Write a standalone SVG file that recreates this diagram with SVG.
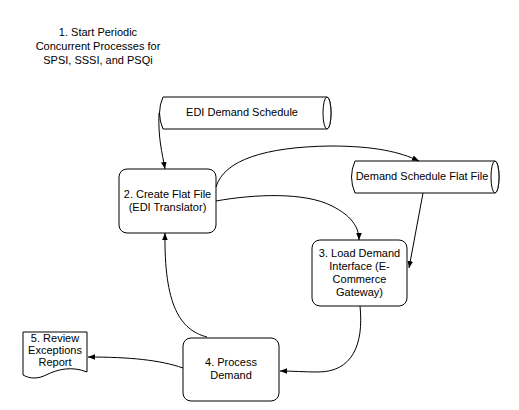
<svg xmlns="http://www.w3.org/2000/svg" width="519" height="410" viewBox="0 0 519 410">
<defs>
<style>
.t{font-family:"Liberation Sans",Arial,sans-serif;font-size:11px;fill:#000;text-anchor:middle}
.s{fill:#fff;stroke:#000;stroke-width:1}
.c{fill:none;stroke:#000;stroke-width:1}
</style>
<marker id="ah" viewBox="0 0 10 10" refX="10" refY="5" markerWidth="7" markerHeight="7" orient="auto" markerUnits="userSpaceOnUse">
<path d="M0,1 L10,5 L0,9 Z" fill="#000"/>
</marker>
</defs>
<rect width="519" height="410" fill="#fff"/>
<g id="n1">
<text class="t" x="98" y="36">1. Start Periodic</text>
<text class="t" x="98" y="50">Concurrent Processes for</text>
<text class="t" x="98" y="64">SPSI, SSSI, and PSQi</text>
</g>
<g id="edi">
<path class="s" d="M163,97 H327 A4,16 0 0 1 327,129 H163 Q156,113 163,97 Z"/>
<ellipse class="s" cx="327" cy="113" rx="4" ry="16"/>
<text class="t" x="242" y="116">EDI Demand Schedule</text>
</g>
<g id="dsff">
<path class="s" d="M355,161 H495 A4,16 0 0 1 495,193 H355 Q348,177 355,161 Z"/>
<ellipse class="s" cx="495" cy="177" rx="4" ry="16"/>
<text class="t" x="422" y="180">Demand Schedule Flat File</text>
</g>
<g id="n2">
<rect class="s" x="119" y="169" width="97" height="64" rx="8"/>
<text class="t" x="167.5" y="198">2. Create Flat File</text>
<text class="t" x="167.5" y="211">(EDI Translator)</text>
</g>
<g id="n3">
<rect class="s" x="312" y="240" width="95" height="66" rx="8"/>
<text class="t" x="359.5" y="257">3. Load Demand</text>
<text class="t" x="359.5" y="270">Interface (E-</text>
<text class="t" x="359.5" y="283">Commerce</text>
<text class="t" x="359.5" y="296">Gateway)</text>
</g>
<g id="n4">
<rect class="s" x="183" y="338" width="96" height="63" rx="8"/>
<text class="t" x="231" y="366">4. Process</text>
<text class="t" x="231" y="379">Demand</text>
</g>
<g id="n5">
<path class="s" d="M23,332 H87 V372 C72,366 58,369 46,375 C38,379 30,379 23,375 Z"/>
<text class="t" x="55" y="342">5. Review</text>
<text class="t" x="55" y="354">Exceptions</text>
<text class="t" x="55" y="366">Report</text>
</g>
<g id="connectors">
<path class="c" marker-end="url(#ah)" d="M159,113 C158,138 162,152 165,169"/>
<path class="c" marker-end="url(#ah)" d="M216,187 C224,160 265,147 330,146 C375,146 400,152 419,161"/>
<path class="c" marker-end="url(#ah)" d="M216,201 C255,194 305,192 332,206 C350,215 359,226 359,240"/>
<path class="c" marker-end="url(#ah)" d="M423,193 L409,268"/>
<path class="c" marker-end="url(#ah)" d="M360,306 C364,345 352,372 318,372 C305,372 292,371 280,371"/>
<path class="c" marker-end="url(#ah)" d="M207,337 C180,330 164,305 165,233"/>
<path class="c" marker-end="url(#ah)" d="M183,368 C160,360 130,357 88,357"/>
</g>
</svg>
